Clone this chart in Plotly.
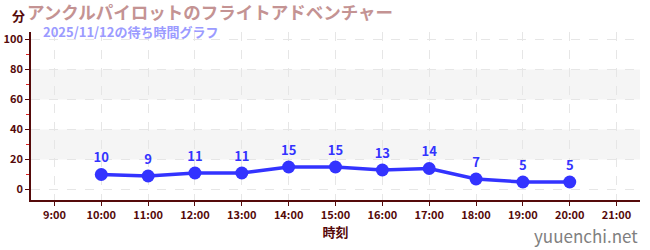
import plotly.graph_objects as go

hours = [10, 11, 12, 13, 14, 15, 16, 17, 18, 19, 20]
waits = [10, 9, 11, 11, 15, 15, 13, 14, 7, 5, 5]
tick_hours = [9, 10, 11, 12, 13, 14, 15, 16, 17, 18, 19, 20, 21]
tick_labels = [f"{h}:00" for h in tick_hours]
y_ticks = [0, 20, 40, 60, 80, 100]
bands = [(20, 40), (60, 80)]

FONT = "Noto Sans CJK JP"
AXIS_C = "#550a0a"
LINE_C = "#3333ff"
PH = 168.0

fig = go.Figure()
fig.add_trace(go.Scatter(
    x=hours, y=waits, mode="lines+markers+text",
    text=[str(v) for v in waits], textposition="top center",
    textfont=dict(family=FONT, size=13, color=LINE_C, weight="bold"),
    line=dict(color=LINE_C, width=3.5),
    marker=dict(color=LINE_C, size=13),
    cliponaxis=False, hoverinfo="skip", showlegend=False,
))

shapes = []
for lo, hi in bands:
    shapes.append(dict(type="rect", xref="paper", yref="y", x0=0, x1=1, y0=lo, y1=hi,
                       fillcolor="#f5f5f5", line=dict(width=0), layer="below"))

fig.update_layout(
    width=650, height=250,
    margin=dict(l=31, r=10, t=32, b=50),
    paper_bgcolor="white", plot_bgcolor="white",
    shapes=shapes,
    font=dict(family=FONT, color=AXIS_C),
    xaxis=dict(
        range=[8.5, 21.5], tickvals=tick_hours, ticktext=tick_labels,
        showgrid=True, gridcolor="#e6e6e6", griddash="dash", gridwidth=1,
        showline=True, linecolor=AXIS_C, linewidth=1.5,
        ticks="outside", ticklen=4, tickcolor=AXIS_C,
        tickfont=dict(family=FONT, size=11, color=AXIS_C, weight="bold"),
        zeroline=False, automargin=False,
        title=dict(text="時刻", font=dict(family=FONT, size=13, color=AXIS_C, weight="bold"), standoff=5),
    ),
    yaxis=dict(
        range=[-7, 105], tickvals=y_ticks,
        showgrid=True, gridcolor="#e6e6e6", griddash="dash", gridwidth=1,
        showline=True, linecolor=AXIS_C, linewidth=1.5,
        ticks="outside", ticklen=4, tickcolor=AXIS_C,
        tickfont=dict(family=FONT, size=11, color=AXIS_C, weight="bold"),
        zeroline=False, automargin=False,
        minor=dict(dtick=10, tick0=0, ticks="outside", ticklen=3, tickcolor="#dd2222", showgrid=False),
    ),
    annotations=[
        dict(text="アンクルパイロットのフライトアドベンチャー", xref="paper", yref="paper",
             x=-0.01, y=1 + 21 / PH, xanchor="left", yanchor="middle", showarrow=False,
             font=dict(family=FONT, size=17.5, color="#c49393", weight="bold")),
        dict(text="2025/11/12の待ち時間グラフ", xref="paper", yref="paper",
             x=0.016, y=1 + 0.5 / PH, xanchor="left", yanchor="middle", showarrow=False,
             font=dict(family=FONT, size=13, color="#9b9bff", weight="bold")),
        dict(text="分", xref="paper", yref="paper", x=-0.021, y=1 + 16 / PH, xanchor="center",
             yanchor="middle", showarrow=False,
             font=dict(family=FONT, size=13, color=AXIS_C, weight="bold")),
        dict(text="yuuenchi.net", xref="paper", yref="paper", x=1.0, y=-35 / PH,
             xanchor="right", yanchor="middle", showarrow=False,
             font=dict(family=FONT, size=17, color="#808080")),
    ],
)

fig.write_html("out.html")
